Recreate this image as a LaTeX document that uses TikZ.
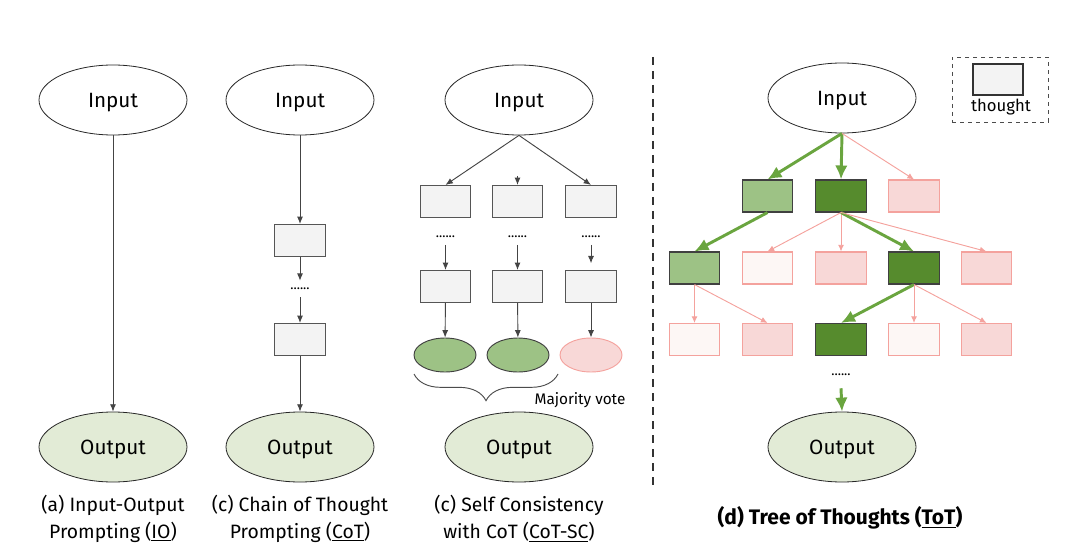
\documentclass[tikz,border=0pt]{standalone}
\usepackage{fontspec}
\setmainfont{Fira Sans}
\usetikzlibrary{shapes.geometric,arrows.meta,decorations.pathreplacing}
\definecolor{outgreen}{HTML}{E2EBD6}
\definecolor{lgreen}{HTML}{9DC285}
\definecolor{dgreen}{HTML}{568B2D}
\definecolor{pkfill}{HTML}{F8D8D7}
\definecolor{pkline}{HTML}{F4A29D}
\definecolor{wpfill}{HTML}{FDF7F5}
\definecolor{boxgray}{HTML}{F3F3F3}
\definecolor{boxline}{HTML}{555555}
\definecolor{arrowgray}{HTML}{444444}
\definecolor{arrowgreen}{HTML}{6AA53F}
\begin{document}
\begin{tikzpicture}[x=0.75pt,y=-0.75pt,
  ell/.style={ellipse, draw=black!85, line width=0.6pt, minimum width=111pt, minimum height=52.5pt, inner sep=0pt, text depth=0pt, font=\fontsize{15.5}{18}\selectfont},
  outell/.style={ell, fill=outgreen},
  tbox/.style={rectangle, draw=boxline, fill=boxgray, line width=0.8pt, minimum width=38pt, minimum height=24pt, inner sep=0pt},
  lgbox/.style={tbox, fill=lgreen, draw=black!75},
  dgbox/.style={tbox, fill=dgreen, draw=black!75},
  pkbox/.style={tbox, fill=pkfill, draw=pkline},
  wpbox/.style={tbox, fill=wpfill, draw=pkline},
  goval/.style={ellipse, draw=black!75, fill=lgreen, line width=0.7pt, minimum width=46.5pt, minimum height=25.5pt, inner sep=0pt},
  poval/.style={ellipse, draw=pkline, fill=pkfill, line width=0.7pt, minimum width=46.5pt, minimum height=25.5pt, inner sep=0pt},
  dotnode/.style={inner sep=0pt, minimum height=12pt, font=\fontsize{10}{10}\selectfont},
  garrow/.style={draw=arrowgray, line width=0.7pt, -{Latex[length=5.5pt,width=4.5pt]}},
  grarrow/.style={draw=arrowgreen, line width=2.2pt, -{Latex[length=10.5pt,width=9.5pt]}},
  pkarrow/.style={draw=pkline, line width=0.7pt, -{Latex[length=5pt,width=4.5pt]}},
  caption/.style={align=center, font=\fontsize{14.5}{20.25}\selectfont, inner sep=0pt}
]
\useasboundingbox (0,0) rectangle (1080,552);

% (a)
\node[ell] (inA) at (113,100) {Input};
\node[outell] (outA) at (113,447) {Output};
\draw[garrow] (inA) -- (outA);
\node[caption] (capA) at (113,518.5) {(a) Input-Output\\Prompting (\underline{IO})};

% (b)
\node[ell] (inB) at (300,100) {Input};
\node[outell] (outB) at (300,447) {Output};
\node[tbox] (B1) at (300,240.5) {};
\node[dotnode] (dB) at (300,289) {......};
\node[tbox] (B2) at (300,339.5) {};
\draw[garrow] (inB) -- (B1);
\draw[garrow] (B1) -- (dB);
\draw[garrow] (dB) -- (B2);
\draw[garrow] (B2) -- (outB);
\node[caption] (capB) at (300,518.5) {(c) Chain of Thought\\Prompting (\underline{CoT})};

% (c)
\node[ell] (inC) at (519,100) {Input};
\node[outell] (outC) at (519,447) {Output};
\node[tbox] (C1a) at (445.5,201.5) {};
\node[tbox] (C1b) at (517.5,201.5) {};
\node[tbox] (C1c) at (591,201.5) {};
\node[dotnode] (dCa) at (445.5,236.5) {......};
\node[dotnode] (dCb) at (517.5,236.5) {......};
\node[dotnode] (dCc) at (591,236.5) {......};
\node[tbox] (C2a) at (445.5,286.5) {};
\node[tbox] (C2b) at (517.5,286.5) {};
\node[tbox] (C2c) at (591,286.5) {};
\node[goval] (Oa) at (445,355) {};
\node[goval] (Ob) at (518,355) {};
\node[poval] (Oc) at (591,355) {};
\coordinate (c1btop) at (517.5,176);
\draw[garrow] (inC.south) -- (C1a.north);
\draw[garrow] (c1btop) -- (C1b.north);
\draw[garrow] (inC.south) -- (C1c.north);
\draw[garrow] (dCa) -- (C2a);
\draw[garrow] (dCb) -- (C2b);
\draw[garrow, shorten >=5pt] (dCc) -- (C2c);
\draw[garrow] (C2a) -- (Oa);
\draw[garrow] (C2b) -- (Ob);
\draw[garrow] (C2c) -- (Oc);
\coordinate (brL) at (414,374);
\coordinate (brR) at (558,374);
\draw[decorate, decoration={brace, mirror, amplitude=20pt}, draw=black!70, line width=0.7pt] (brL) -- (brR);
\node[font=\fontsize{11.5}{13}\selectfont, inner sep=0pt] (mv) at (580,400) {Majority vote};
\node[caption] (capC) at (519,518.5) {(c) Self Consistency\\with CoT (\underline{CoT-SC})};

% divider
\coordinate (dvT) at (653,57);
\coordinate (dvB) at (653,490);
\draw[draw=black!80, line width=1.5pt, dash pattern=on 6pt off 4.5pt] (dvT) -- (dvB);

% (d)
\node[ell] (inD) at (842,98) {Input};
\node[outell] (outD) at (842,447) {Output};
\node[lgbox] (D11) at (767.5,196) {};
\node[dgbox] (D12) at (841,196) {};
\node[pkbox] (D13) at (914,196) {};
\node[lgbox] (D21) at (694.5,268) {};
\node[wpbox] (D22) at (767.5,268) {};
\node[pkbox] (D23) at (841,268) {};
\node[dgbox] (D24) at (914,268) {};
\node[pkbox] (D25) at (986.5,268) {};
\node[wpbox] (D31) at (694.5,339.5) {};
\node[pkbox] (D32) at (767.5,339.5) {};
\node[dgbox] (D33) at (841,339.5) {};
\node[wpbox] (D34) at (914,339.5) {};
\node[pkbox] (D35) at (986.5,339.5) {};
\node[dotnode, minimum height=19.5pt] (dD) at (841,375) {......};
\draw[grarrow] (inD.south) -- (D11.north);
\draw[grarrow] (inD.south) -- (D12.north);
\draw[pkarrow] (inD.south) -- (D13.north);
\draw[grarrow] (D11.south) -- (D21.north);
\draw[pkarrow] (D12.south) -- (D22.north);
\draw[pkarrow] (D12.south) -- (D23.north);
\draw[grarrow] (D12.south) -- (D24.north);
\draw[pkarrow] (D12.south) -- (D25.north);
\draw[pkarrow] (D21.south) -- (D31.north);
\draw[pkarrow] (D21.south) -- (D32.north);
\draw[grarrow] (D24.south) -- (D33.north);
\draw[pkarrow] (D24.south) -- (D34.north);
\draw[pkarrow] (D24.south) -- (D35.north);
\draw[grarrow] (dD.south) -- (outD.north);
\node[caption, font=\bfseries\fontsize{15.75}{20}\selectfont] (capD) at (840,518) {(d) Tree of Thoughts (\underline{ToT})};

% legend
\node[draw=black!70, dashed, line width=0.7pt, minimum width=72pt, minimum height=48.75pt, inner sep=0pt] (legend) at (1000,89.5) {};
\node[tbox, draw=black!80, minimum width=37.5pt, minimum height=23.25pt] (legbox) at (998,79.5) {};
\node[font=\fontsize{12.5}{14}\selectfont, inner sep=0pt] (legtxt) at (1001,107) {thought};
\end{tikzpicture}
\end{document}
